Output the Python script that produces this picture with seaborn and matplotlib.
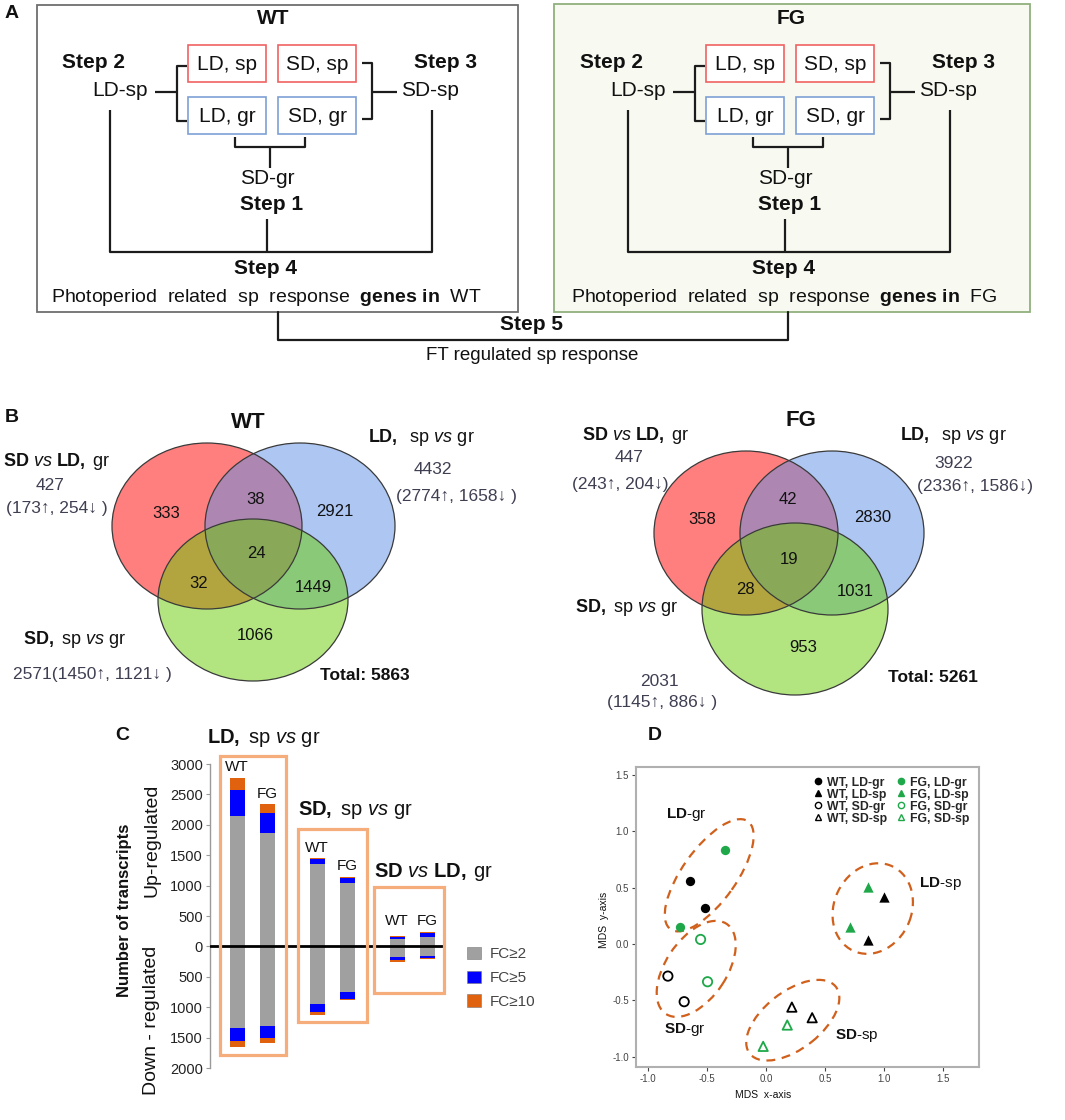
import numpy as np
import pandas as pd
import matplotlib
matplotlib.use("Agg")
import matplotlib.pyplot as plt
import seaborn as sns
from matplotlib.patches import Ellipse, Rectangle, Patch
from matplotlib.lines import Line2D
from matplotlib.ticker import FormatStrFormatter

# ------------------------------------------------------------------ data
# Panel B - Venn diagrams. Region order: [A only, B only, C only, AB, AC, BC, ABC]
# A = "SD vs LD, gr" (red), B = "LD, sp vs gr" (blue), C = "SD, sp vs gr" (green)
wt_regions = [333, 2921, 1066, 38, 32, 1449, 24]
fg_regions = [358, 2830, 953, 42, 28, 1031, 19]
wt_set_total = [427, 4432, 2571]
wt_set_up = [173, 2774, 1450]
wt_set_down = [254, 1658, 1121]
fg_set_total = [447, 3922, 2031]
fg_set_up = [243, 2336, 1145]
fg_set_down = [204, 1586, 886]
wt_grand_total = 5863
fg_grand_total = 5261

# Panel C - numbers of transcripts per fold-change class
comparisons = ["LD, sp vs gr", "SD, sp vs gr", "SD vs LD, gr"]
genotypes = ["WT", "FG"]
up_fc2 = [2150, 1870, 1360, 1050, 120, 160]      # grey part
up_fc5 = [430, 330, 70, 80, 40, 60]              # blue part
up_fc10 = [194, 136, 20, 15, 13, 23]             # orange part
down_fc2 = [1340, 1310, 950, 750, 180, 150]
down_fc5 = [220, 200, 125, 110, 50, 45]
down_fc10 = [98, 76, 46, 26, 24, 9]
fc_labels = ["FC≥2", "FC≥5", "FC≥10"]

# Panel D - MDS plot
mds_x = [-0.644, -0.514, -0.347, -0.729,
         1.000, 0.867, 0.867, 0.714,
         -0.830, -0.692, -0.553, -0.494,
         0.220, 0.392, 0.181, -0.023]
mds_y = [0.556, 0.322, 0.836, 0.151,
         0.417, 0.033, 0.505, 0.151,
         -0.284, -0.511, 0.041, -0.334,
         -0.559, -0.653, -0.718, -0.907]
mds_genotype = ["WT", "WT", "FG", "FG",
                "WT", "WT", "FG", "FG",
                "WT", "WT", "FG", "FG",
                "WT", "WT", "FG", "FG"]
mds_sample = ["LD-gr"] * 4 + ["LD-sp"] * 4 + ["SD-gr"] * 4 + ["SD-sp"] * 4

# ------------------------------------------------------------------ style
sns.set_theme(style="white")
plt.rcParams["font.family"] = ["Liberation Sans", "DejaVu Sans"]
plt.rcParams["mathtext.fontset"] = "custom"
plt.rcParams["mathtext.rm"] = "Liberation Sans"
plt.rcParams["mathtext.it"] = "Liberation Sans:italic"
plt.rcParams["mathtext.bf"] = "Liberation Sans:bold"
plt.rcParams["axes.unicode_minus"] = False

W, H = 1065, 1120
fig = plt.figure(figsize=(W / 100, H / 100), dpi=100)
fig.patch.set_facecolor("white")


def fig_axes(left, top, right, bottom):
    return fig.add_axes([left / W, 1 - bottom / H, (right - left) / W, (bottom - top) / H])


ov = fig.add_axes([0, 0, 1, 1])
ov.set_xlim(0, W)
ov.set_ylim(H, 0)
ov.axis("off")
ov.set_zorder(10)


def T(x, y, s, size, weight="normal", ha="center", color="#111111", **kw):
    ov.text(x, y, s, fontsize=size, fontweight=weight, ha=ha, va="center", color=color, **kw)


RED_BOX = "#f06262"
BLUE_BOX = "#7ea0d6"
LINE = "#1c1c1c"

# ------------------------------------------------------------------ panel A
def scheme(dx, box, title, face, edge):
    x0, y0, x1, y1 = box
    ov.add_patch(Rectangle((x0, y0), x1 - x0, y1 - y0, fc=face, ec=edge, lw=1.3, zorder=0))
    T(273 + dx, 19, title, 15, "bold")
    T(93 + dx, 63, "Step 2", 15, "bold")
    T(120 + dx, 91, "LD-sp", 15)
    T(446 + dx, 62, "Step 3", 15, "bold")
    T(430 + dx, 91, "SD-sp", 15)
    for bx, by, lab, col in [(188, 45, "LD, sp", RED_BOX), (278, 45, "SD, sp", RED_BOX),
                             (188, 97, "LD, gr", BLUE_BOX), (278, 97, "SD, gr", BLUE_BOX)]:
        ov.add_patch(Rectangle((bx + dx, by), 78, 37, fc="white", ec=col, lw=1.2, zorder=1))
        T(bx + dx + 39, by + 19, lab, 15)

    def L(xs, ys):
        ov.plot([v + dx for v in xs], ys, color=LINE, lw=1.6, solid_capstyle="butt")

    L([155, 177], [92, 92])
    L([187, 177, 177, 187], [66, 66, 121, 121])
    L([362, 372, 372, 362], [63, 63, 119, 119])
    L([372, 397], [92, 92])
    L([235, 235, 305, 305], [137, 147, 147, 137])
    L([270, 270], [147, 168])
    L([110, 110, 432, 432], [110, 252, 252, 110])
    L([267, 267], [219, 252])
    T(267 + dx, 178, "SD-gr", 15)
    T(272 + dx, 205, "Step 1", 15, "bold")
    T(266 + dx, 269, "Step 4", 15, "bold")
    T(266 + dx, 297, r"Photoperiod  related  sp  response  $\mathbf{genes\ in}$  " + title, 14)


T(12, 14, "A", 14, "bold")
scheme(0, (37, 5, 518, 312), "WT", "white", "#6e6e6e")
scheme(518, (554, 4, 1030, 312), "FG", "#f8faf1", "#8fb07c")
ov.plot([278, 278, 788, 788], [312, 340, 340, 312], color=LINE, lw=1.6)
T(532, 325, "Step 5", 15, "bold")
T(532, 356, "FT regulated sp response", 13.5)

# ------------------------------------------------------------------ panel B
HDR_SDLD = r"$\mathbf{SD}\ \mathit{vs}\ \mathbf{LD,}\;\mathrm{gr}$"
HDR_LD = r"$\mathbf{LD,}\ \ \mathrm{sp}\ \mathit{vs}\ \mathrm{gr}$"
HDR_SD = r"$\mathbf{SD,}\ \mathrm{sp}\ \mathit{vs}\ \mathrm{gr}$"
HDR_LD_C = r"$\mathbf{LD,}\ \mathrm{sp}\ \mathit{vs}\ \mathrm{gr}$"
NUMCOL = "#3f3f52"
VENN_FILL = [(1.0, 0.0, 0.0, 0.5), (0.365, 0.56, 0.90, 0.5), (0.40, 0.80, 0.0, 0.5)]


def venn(circles, regions, positions):
    for (cx, cy, w, h), c in zip(circles, VENN_FILL):
        ov.add_patch(Ellipse((cx, cy), w, h, fc=c, ec="none"))
    for cx, cy, w, h in circles:
        ov.add_patch(Ellipse((cx, cy), w, h, fc="none", ec="#3a3a3a", lw=0.9))
    for n, (x, y) in zip(regions, positions):
        T(x, y, str(n), 12)


T(12, 418, "B", 14, "bold")
venn([(207, 526, 190, 166), (300, 526, 190, 166), (253, 600, 190, 162)], wt_regions,
     [(166, 513), (335, 512), (255, 635), (256, 499), (199, 583), (313, 587), (256, 554)])
T(248, 423, "WT", 16, "bold")
T(3, 462, HDR_SDLD, 13, ha="left")
T(50, 485, f"{wt_set_total[0]}", 12.5, color=NUMCOL)
T(57, 508, f"({wt_set_up[0]}↑, {wt_set_down[0]}↓ )", 12.5, color=NUMCOL)
T(368, 437, HDR_LD, 13, ha="left")
T(433, 469, f"{wt_set_total[1]}", 12.5, color=NUMCOL)
T(456, 496, f"({wt_set_up[1]}↑, {wt_set_down[1]}↓ )", 12.5, color=NUMCOL)
T(23, 640, HDR_SD, 13, ha="left")
T(13, 675, f"{wt_set_total[2]}({wt_set_up[2]}↑, {wt_set_down[2]}↓ )", 12.5, ha="left", color=NUMCOL)
T(320, 675, f"Total: {wt_grand_total}", 12.5, "bold", ha="left")

venn([(746, 533, 184, 164), (832, 533, 184, 164), (795, 609, 186, 172)], fg_regions,
     [(702, 519), (873, 518), (803, 647), (788, 500), (745, 589), (855, 591), (789, 560)])
T(801, 420, "FG", 16, "bold")
T(582, 436, HDR_SDLD, 13, ha="left")
T(629, 457, f"{fg_set_total[0]}", 12.5, color=NUMCOL)
T(620, 484, f"({fg_set_up[0]}↑, {fg_set_down[0]}↓)", 12.5, color=NUMCOL)
T(900, 436, HDR_LD, 13, ha="left")
T(954, 464, f"{fg_set_total[1]}", 12.5, color=NUMCOL)
T(975, 487, f"({fg_set_up[1]}↑, {fg_set_down[1]}↓)", 12.5, color=NUMCOL)
T(575, 608, HDR_SD, 13, ha="left")
T(659, 681, f"{fg_set_total[2]}", 12.5, color=NUMCOL)
T(662, 703, f"({fg_set_up[2]}↑, {fg_set_down[2]}↓ )", 12.5, color=NUMCOL)
T(888, 677, f"Total: {fg_grand_total}", 12.5, "bold", ha="left")

# ------------------------------------------------------------------ panel C
GREY, BLUE, ORANGE = "#a0a0a0", "#0000ff", "#e0620f"
axC = fig_axes(210, 764, 446, 1068)
bar_x = [g + o for g in range(len(comparisons)) for o in (-0.19, 0.19)]
up_c = np.cumsum([up_fc2, up_fc5, up_fc10], axis=0)
dn_c = -np.cumsum([down_fc2, down_fc5, down_fc10], axis=0)
for layer, color in zip([2, 1, 0], [ORANGE, BLUE, GREY]):
    for vals in (up_c[layer], dn_c[layer]):
        sns.barplot(x=bar_x, y=list(vals), native_scale=True, width=0.5, color=color,
                    saturation=1, linewidth=0, errorbar=None, ax=axC, zorder=2)
axC.axhline(0, color="black", lw=2, zorder=3)
axC.set_xlim(-0.531, 2.419)
axC.set_ylim(-2000, 3000)
yt = list(range(-2000, 3001, 500))
axC.set_yticks(yt)
axC.set_yticklabels([str(abs(v)) for v in yt], fontsize=10.5, color="#222222")
axC.set_xticks([])
axC.set_xlabel("")
axC.set_ylabel("")
for sp in ["top", "right", "bottom"]:
    axC.spines[sp].set_visible(False)
axC.spines["left"].set_color("#9a9a9a")
axC.spines["left"].set_linewidth(1.0)
axC.tick_params(axis="y", length=3, width=0.8, color="#9a9a9a", pad=2, left=True)
axC.patch.set_alpha(0)

for i, x in enumerate(bar_x):
    axC.text(x, max(up_c[2][i] + 170, 410), genotypes[i % 2], ha="center", va="center",
             fontsize=11, color="#111111")

box_x = [(-0.41, 0.42), (-0.43, 0.43), (-0.48, 0.39)]
box_y = [(3125, -1793), (1924, -1250), (970, -773)]
for g, ((bx0, bx1), (by1, by0)) in enumerate(zip(box_x, box_y)):
    axC.add_patch(Rectangle((g + bx0, by0), bx1 - bx0, by1 - by0, fill=False,
                            ec="#f6ad7c", lw=2.3, clip_on=False, zorder=4))

T(122, 735, "C", 14, "bold")
T(207, 738, HDR_LD_C, 14.5, ha="left")
T(298, 810, HDR_SD, 14.5, ha="left")
T(374, 872, HDR_SDLD, 14.5, ha="left")
T(125, 910, "Number of transcripts", 12, "bold", rotation=90)
T(152, 840, "Up-regulated", 14, rotation=90)
T(152, 1020, "Down - regulated", 14, rotation=90)

fig.legend(handles=[Patch(fc=c, ec="#777777", lw=0.4, label=l)
                    for c, l in zip([GREY, BLUE, ORANGE], fc_labels)],
           loc="upper left", bbox_to_anchor=(453 / W, 1 - 933 / H), frameon=False,
           fontsize=11, handlelength=0.9, handleheight=0.9, labelspacing=0.6,
           handletextpad=0.6, labelcolor="#444444")

# ------------------------------------------------------------------ panel D
GREEN = "#1fa84a"
axD = fig_axes(636, 767, 979, 1067)
mds = pd.DataFrame({"x": mds_x, "y": mds_y, "genotype": mds_genotype, "sample": mds_sample})
colors = {"WT": "black", "FG": GREEN}
markers = {"LD-gr": "o", "LD-sp": "^", "SD-gr": "o", "SD-sp": "^"}
filled = {"LD-gr": True, "LD-sp": True, "SD-gr": False, "SD-sp": False}
for (g, s), sub in mds.groupby(["genotype", "sample"], sort=False):
    col = colors[g]
    sns.scatterplot(data=sub, x="x", y="y", ax=axD, marker=markers[s], color=col,
                    facecolor=col if filled[s] else "none", edgecolor=col,
                    s=(45 if markers[s] == "o" else 55) if filled[s] else 45,
                    linewidth=0 if filled[s] else 1.3, legend=False, zorder=3)

axD.set_xlim(-1.10, 1.805)
axD.set_ylim(-1.09, 1.57)
ticks = [-1.0, -0.5, 0.0, 0.5, 1.0, 1.5]
axD.set_xticks(ticks)
axD.set_yticks(ticks)
axD.xaxis.set_major_formatter(FormatStrFormatter("%.1f"))
axD.yaxis.set_major_formatter(FormatStrFormatter("%.1f"))
axD.tick_params(labelsize=7, colors="#444444", length=3, width=0.8, pad=2,
                bottom=True, left=True)
for sp in axD.spines.values():
    sp.set_color("#b0b0b0")
    sp.set_linewidth(1.5)
axD.set_xlabel("")
axD.set_ylabel("")

ell_col = "#d0601c"
for (cx, cy), w, h, ang in [((-0.48, 0.61), 1.16, 0.46, 56), ((-0.59, -0.22), 0.95, 0.52, 58),
                            ((0.228, -0.675), 0.94, 0.50, 40), ((0.905, 0.315), 0.82, 0.66, 70)]:
    axD.add_patch(Ellipse((cx, cy), w, h, angle=ang, fill=False, ec=ell_col, lw=1.6,
                          ls=(0, (4, 3)), zorder=2))
for x, y, lab in [(-0.67, 1.15, "LD"), (-0.686, -0.76, "SD"), (0.771, -0.807, "SD"),
                  (1.475, 0.54, "LD")]:
    suffix = "gr" if x < 0 else "sp"
    axD.text(x, y, rf"$\mathbf{{{lab}}}$-{suffix}", fontsize=11, ha="center", va="center",
             color="#111111")

handles = []
for g in genotypes:
    for s in ["LD-gr", "LD-sp", "SD-gr", "SD-sp"]:
        col = colors[g]
        lab = f"{g}, {s}"
        handles.append(Line2D([], [], ls="none", marker=markers[s], ms=4.5,
                              mfc=col if filled[s] else "none", mec=col, mew=1.0, label=lab))
axD.legend(handles=handles, ncol=2, loc="upper right", bbox_to_anchor=(1.0, 1.0),
           frameon=False, prop={"weight": "bold", "size": 8.8}, handlelength=0.8,
           handletextpad=0.35, columnspacing=0.7, labelspacing=0.0, borderaxespad=0.4)

T(655, 735, "D", 14, "bold")
T(763, 1095, "MDS  x-axis", 7.5)
T(604, 920, "MDS  y-axis", 7.5, rotation=90)

fig.savefig("out.png", dpi=100, facecolor="white")
